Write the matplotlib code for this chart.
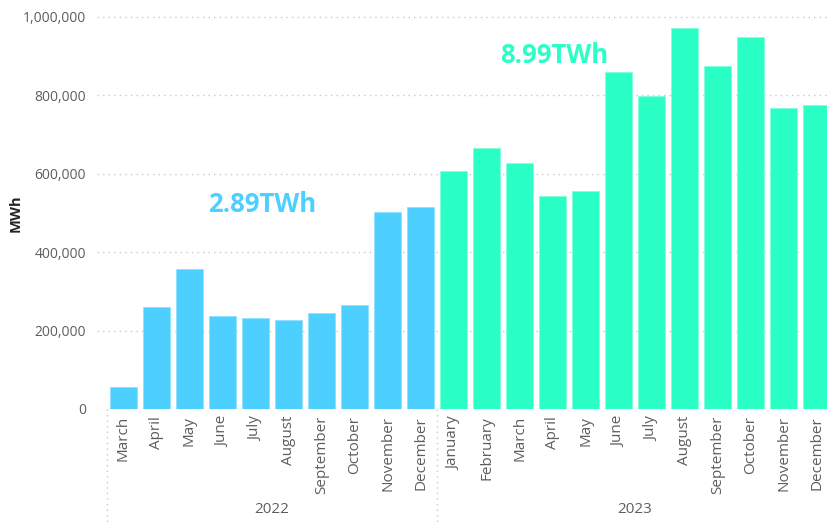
import matplotlib
matplotlib.use("Agg")
import matplotlib.pyplot as plt
import matplotlib.transforms as mtransforms
from matplotlib.ticker import FuncFormatter

plt.rcParams['font.family'] = ['Open Sans', 'DejaVu Sans']

months_2022 = ["March", "April", "May", "June", "July", "August", "September",
               "October", "November", "December"]
values_2022 = [57000, 259000, 358000, 237000, 233000, 227000, 245000, 264000,
               503000, 516000]
months_2023 = ["January", "February", "March", "April", "May", "June", "July",
               "August", "September", "October", "November", "December"]
values_2023 = [607000, 664000, 627000, 544000, 555000, 859000, 799000, 972000,
               875000, 947000, 766000, 776000]
years = ["2022", "2023"]
totals = ["2.89TWh", "8.99TWh"]
yticks = [0, 200000, 400000, 600000, 800000, 1000000]

c22 = "#4DD0FF"
c23 = "#2AFFC6"

fig = plt.figure(figsize=(8.27, 5.22), dpi=100)
ax = fig.add_axes([97/827, 113/522, 730/827, 400.2/522])

n22 = len(values_2022)
n23 = len(values_2023)
x22 = list(range(n22))
x23 = list(range(n22, n22 + n23))

ax.bar(x22, values_2022, width=0.82, color=c22, edgecolor="#8FE2FF", linewidth=0.6, zorder=3)
ax.bar(x23, values_2023, width=0.82, color=c23, edgecolor="#80FFDD", linewidth=0.6, zorder=3)

ax.set_xlim(-0.803, 21.318)
ax.set_ylim(0, 1020000)
ax.set_yticks(yticks)
ax.yaxis.set_major_formatter(FuncFormatter(lambda v, p: f"{int(v):,}"))
ax.grid(axis="y", color="#C8C8C8", linestyle=(0, (1, 3)), linewidth=1, zorder=0)
ax.set_axisbelow(True)
for s in ax.spines.values():
    s.set_visible(False)

ax.set_xticks(x22 + x23)
ax.set_xticklabels(months_2022 + months_2023, rotation=90, fontsize=11, color="#605E5C")
ax.tick_params(axis="x", length=0, pad=5)
ax.tick_params(axis="y", length=0, pad=8, labelsize=10, labelcolor="#605E5C")

fig.text(16/827, (522 - 213)/522, "MWh", rotation=90, ha="center", va="center",
         fontsize=10.5, color="#252423", fontweight="bold")

trans = mtransforms.blended_transform_factory(ax.transData, ax.transAxes)
for xs in [-0.5, n22 - 0.5, n22 + n23 - 0.5]:
    ax.plot([xs, xs], [0, -0.3], transform=trans, clip_on=False,
            color="#C8C8C8", linestyle=(0, (1, 3)), linewidth=1)

ax.text((n22 - 1) / 2, -0.252, years[0], transform=trans, ha="center", va="center",
        fontsize=11, color="#605E5C")
ax.text(n22 + (n23 - 1) / 2, -0.252, years[1], transform=trans, ha="center", va="center",
        fontsize=11, color="#605E5C")

ax.text(4.2, 520000, totals[0], ha="center", va="center", fontsize=18.5,
        fontweight="bold", color=c22, zorder=5)
ax.text(13.05, 902000, totals[1], ha="center", va="center", fontsize=18.5,
        fontweight="bold", color=c23, zorder=5)

fig.savefig("out.png", dpi=100)
